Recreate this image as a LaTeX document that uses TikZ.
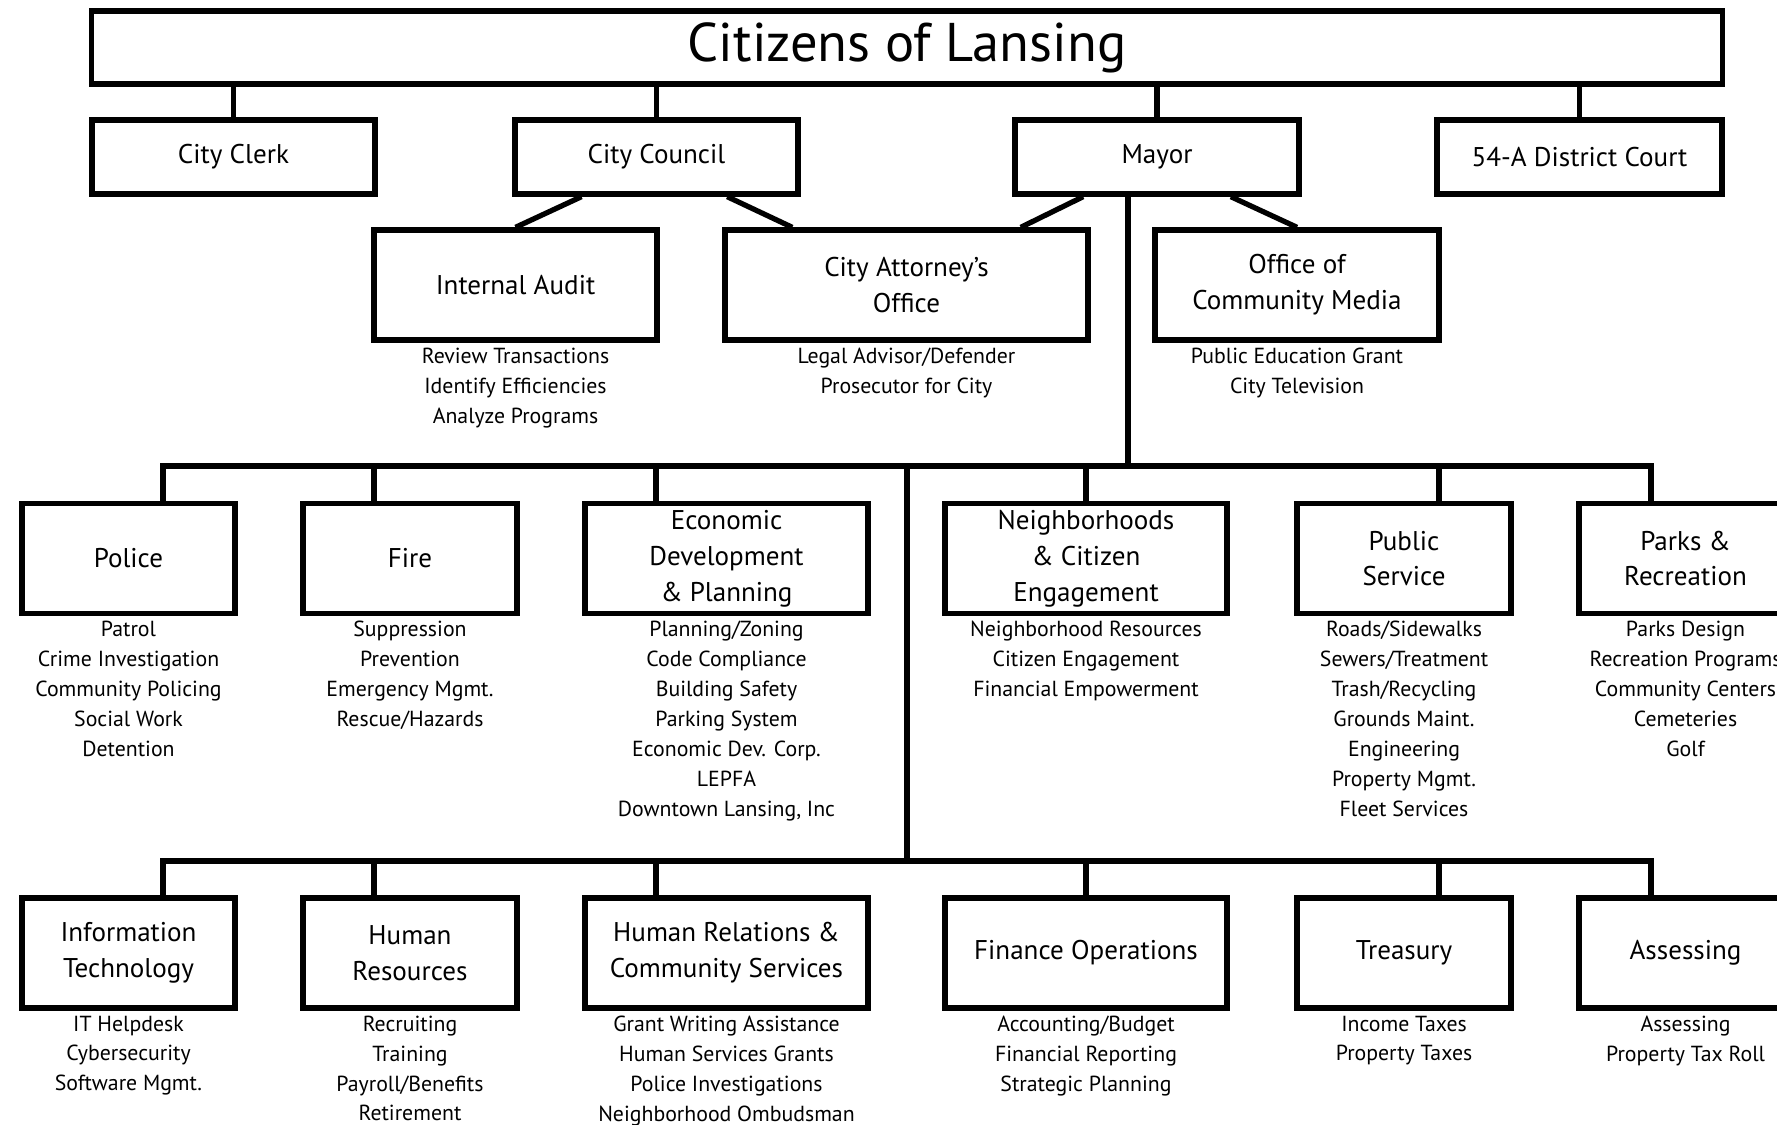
\documentclass[tikz,border=0pt]{standalone}
\usepackage{fontspec}
\setmainfont{PT Sans}
\usetikzlibrary{calc,positioning}

\begin{document}
\begin{tikzpicture}[x=0.01cm, y=-0.01cm, line width=1.5pt,
    unit/.style={draw, inner sep=0pt, minimum height=1.10cm, align=center,
        font=\fontsize{7.7pt}{10.2pt}\selectfont},
    duties/.style={align=center, inner sep=0pt, below=0.025cm of #1,
        font=\fontsize{6.2pt}{8.5pt}\selectfont}]
    \useasboundingbox (0,0) rectangle (1777,1124);
    \clip (0,0) rectangle (1777,1124);
    \fill[white] (0,0) rectangle (1777,1124);

    \node[draw, inner sep=0pt, minimum width=16.30cm, minimum height=0.73cm,
        font=\fontsize{15.5pt}{18pt}\selectfont] (citizens) at (907,47.5) {Citizens of Lansing};

    \node[unit, minimum width=2.83cm, minimum height=0.74cm] (clerk) at (233.5,157) {City Clerk};
    \node[unit, minimum width=2.83cm, minimum height=0.74cm] (council) at (656.5,157) {City Council};
    \node[unit, minimum width=2.84cm, minimum height=0.74cm] (mayor) at (1157,157) {Mayor};
    \node[unit, minimum width=2.85cm, minimum height=0.74cm] (court) at (1579.5,157) {54-A District Court};

    \foreach \n in {clerk,council,mayor,court}
        \draw (\n.north) -- (\n.north |- citizens.south);

    \node[unit, minimum width=2.83cm] (audit) at (515.5,285) {Internal Audit};
    \node[unit, minimum width=3.63cm] (attorney) at (906.5,285) {City Attorney's\\Office};
    \node[unit, minimum width=2.84cm] (media) at (1297,285) {Office of\\Community Media};

    \draw ($(council.south west)!.24!(council.south east)$) -- (audit.north);
    \draw ($(council.south west)!.745!(council.south east)$) -- ($(attorney.north west)!.19!(attorney.north east)$);
    \draw ($(mayor.south west)!.245!(mayor.south east)$) -- ($(attorney.north west)!.81!(attorney.north east)$);
    \draw ($(mayor.south west)!.755!(mayor.south east)$) -- (media.north);

    \node[duties=audit] (auditjobs) {Review Transactions\\Identify Efficiencies\\Analyze Programs};
    \node[duties=attorney] (attorneyjobs) {Legal Advisor/Defender\\Prosecutor for City};
    \node[duties=media] (mediajobs) {Public Education Grant\\City Television};

    \coordinate (hub) at (907,466);
    \coordinate (hub2) at (907,861);
    \draw ($(mayor.south west)!.4!(mayor.south east)$) |- (hub);
    \draw (hub) -- (hub2);

    \node[unit, minimum width=2.13cm] (police) at (128.5,558.5) {Police};
    \node[unit, minimum width=2.14cm] (fire) at (410,558.5) {Fire};
    \node[unit, minimum width=2.83cm] (econ) at (726.5,558.5) {Economic\\Development\\\& Planning};
    \node[unit, minimum width=2.82cm] (nbhd) at (1086,558.5) {Neighborhoods\\\& Citizen\\Engagement};
    \node[unit, minimum width=2.14cm] (pubsvc) at (1404,558.5) {Public\\Service};
    \node[unit, minimum width=2.13cm] (parks) at (1685.5,558.5) {Parks \&\\Recreation};

    \foreach \n/\d in {police/34.5, fire/-36, econ/-70.5, nbhd/0, pubsvc/35, parks/-34.5}
        \draw ($(\n.north)+(\d,0)$) |- (hub);

    \node[duties=police] (policejobs) {Patrol\\Crime Investigation\\Community Policing\\Social Work\\Detention};
    \node[duties=fire] (firejobs) {Suppression\\Prevention\\Emergency Mgmt.\\Rescue/Hazards};
    \node[duties=econ] (econjobs) {Planning/Zoning\\Code Compliance\\Building Safety\\Parking System\\Economic Dev. Corp.\\LEPFA\\Downtown Lansing, Inc};
    \node[duties=nbhd] (nbhdjobs) {Neighborhood Resources\\Citizen Engagement\\Financial Empowerment};
    \node[duties=pubsvc] (pubsvcjobs) {Roads/Sidewalks\\Sewers/Treatment\\Trash/Recycling\\Grounds Maint.\\Engineering\\Property Mgmt.\\Fleet Services};
    \node[duties=parks] (parksjobs) {Parks Design\\Recreation Programs\\Community Centers\\Cemeteries\\Golf};

    \node[unit, minimum width=2.13cm] (it) at (128.5,953) {Information\\Technology};
    \node[unit, minimum width=2.14cm] (hr) at (410,953) {Human\\Resources};
    \node[unit, minimum width=2.83cm] (hrcs) at (726.5,953) {Human Relations \&\\Community Services};
    \node[unit, minimum width=2.82cm] (finance) at (1086,953) {Finance Operations};
    \node[unit, minimum width=2.14cm] (treasury) at (1404,953) {Treasury};
    \node[unit, minimum width=2.13cm] (assess) at (1685.5,953) {Assessing};

    \foreach \n/\d in {it/34.5, hr/-36, hrcs/-70.5, finance/0, treasury/35, assess/-34.5}
        \draw ($(\n.north)+(\d,0)$) |- (hub2);

    \node[duties=it] (itjobs) {IT Helpdesk\\Cybersecurity\\Software Mgmt.};
    \node[duties=hr] (hrjobs) {Recruiting\\Training\\Payroll/Benefits\\Retirement};
    \node[duties=hrcs] (hrcsjobs) {Grant Writing Assistance\\Human Services Grants\\Police Investigations\\Neighborhood Ombudsman};
    \node[duties=finance] (financejobs) {Accounting/Budget\\Financial Reporting\\Strategic Planning};
    \node[duties=treasury] (treasuryjobs) {Income Taxes\\Property Taxes};
    \node[duties=assess] (assessjobs) {Assessing\\Property Tax Roll};

\end{tikzpicture}
\end{document}
